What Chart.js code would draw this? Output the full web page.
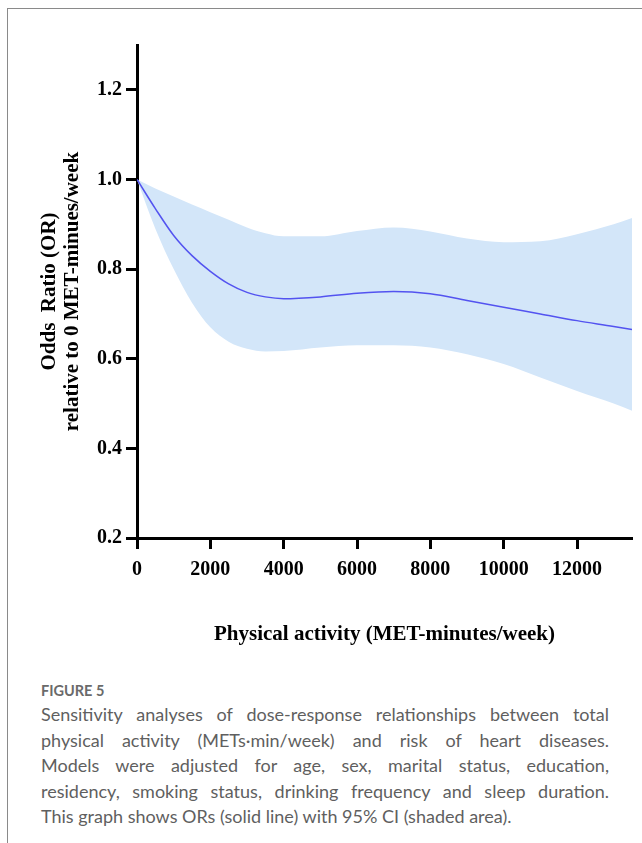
<!DOCTYPE html>
<html>
<head>
<meta charset="utf-8">
<script src="https://cdn.jsdelivr.net/npm/chart.js@4"></script>
<style>
  body { margin: 0; background: #fff; width: 642px; height: 843px; overflow: hidden; position: relative; }
  #frame { position: absolute; left: 7px; top: 8px; width: 640px; height: 840px; border-top: 1px solid #8a8a8a; border-left: 1px solid #8a8a8a; }
  #wrap { position: absolute; left: 0; top: 0; width: 642px; height: 646px; }
  #caption { position: absolute; left: 41px; top: 680px; width: 568px; font-family: Lato, "Open Sans", sans-serif; color: #5f5f5f; }
  #caption .fig { font-size: 14.5px; font-weight: 700; color: #6a6a6a; line-height: 22px; }
  #caption .ln { font-size: 18px; line-height: 25.5px; white-space: nowrap; text-align: justify; text-align-last: justify; }
  #caption .ln.last { text-align-last: left; }
</style>
</head>
<body>
<div id="frame"></div>
<div id="wrap"><canvas id="doseChart"></canvas></div>
<div id="caption">
  <div class="fig">FIGURE 5</div>
  <div class="ln">Sensitivity analyses of dose-response relationships between total</div>
  <div class="ln">physical activity (METs·min/week) and risk of heart diseases.</div>
  <div class="ln">Models were adjusted for age, sex, marital status, education,</div>
  <div class="ln">residency, smoking status, drinking frequency and sleep duration.</div>
  <div class="ln last">This graph shows ORs (solid line) with 95% CI (shaded area).</div>
</div>
<script>
// dados
const activity = [0, 500, 1000, 1500, 2000, 2500, 3000, 3500, 4000, 5000, 6000, 7000, 8000, 9000, 10000, 11000, 12000, 13000, 13500];
const oddsRatio = [1.000, 0.935, 0.875, 0.830, 0.795, 0.767, 0.748, 0.738, 0.734, 0.738, 0.746, 0.750, 0.745, 0.730, 0.715, 0.700, 0.685, 0.672, 0.665];
const ciUpper = [1.000, 0.980, 0.962, 0.944, 0.927, 0.910, 0.893, 0.880, 0.873, 0.873, 0.885, 0.893, 0.884, 0.868, 0.860, 0.862, 0.878, 0.900, 0.914];
const ciLower = [1.000, 0.890, 0.800, 0.725, 0.670, 0.638, 0.622, 0.616, 0.617, 0.625, 0.630, 0.630, 0.625, 0.610, 0.588, 0.558, 0.528, 0.500, 0.484];
const xTicks = [0, 2000, 4000, 6000, 8000, 10000, 12000];
const yTicks = [0.2, 0.4, 0.6, 0.8, 1.0, 1.2];

const toPoints = (ys) => activity.map((x, i) => ({ x: x, y: ys[i] }));

const axisFont = { family: "'Liberation Serif', 'Times New Roman', serif", weight: "bold", size: 20 };

document.addEventListener("DOMContentLoaded", () => {
  const ctx = document.getElementById("doseChart");

  const data = {
    datasets: [
      {
        label: "OR",
        data: toPoints(oddsRatio),
        borderColor: "#5353f0",
        borderWidth: 1.5,
        pointRadius: 0,
        fill: false,
        cubicInterpolationMode: "monotone",
      },
      {
        label: "95% CI upper",
        data: toPoints(ciUpper),
        borderWidth: 0,
        borderColor: "rgba(0,0,0,0)",
        backgroundColor: "#d3e6f9",
        pointRadius: 0,
        fill: "+1",
        cubicInterpolationMode: "monotone",
      },
      {
        label: "95% CI lower",
        data: toPoints(ciLower),
        borderWidth: 0,
        borderColor: "rgba(0,0,0,0)",
        pointRadius: 0,
        fill: false,
        cubicInterpolationMode: "monotone",
      },
    ],
  };

  const config = {
    type: "line",
    data: data,
    options: {
      responsive: true,
      maintainAspectRatio: false,
      animation: false,
      layout: { padding: { top: 45, right: 10, left: 0, bottom: 0 } },
      plugins: {
        legend: { display: false },
        tooltip: { enabled: false },
      },
      scales: {
        x: {
          type: "linear",
          min: 0,
          max: 13500,
          afterBuildTicks: (scale) => { scale.ticks = xTicks.map((v) => ({ value: v })); },
          afterFit: (scale) => { scale.height = 108; },
          border: { display: true, color: "#000", width: 3 },
          grid: { drawOnChartArea: false, drawTicks: true, tickLength: 11, tickWidth: 3, tickColor: "#000" },
          ticks: { color: "#000", font: axisFont, padding: 9, maxRotation: 0, callback: (v) => String(v) },
          title: {
            display: true,
            text: "Physical activity (MET-minutes/week)",
            color: "#000",
            font: { ...axisFont, size: 21, lineHeight: 1.1 },
            padding: { top: 0, bottom: 0 },
          },
        },
        y: {
          type: "linear",
          min: 0.2,
          max: 1.3,
          afterBuildTicks: (scale) => { scale.ticks = yTicks.map((v) => ({ value: v })); },
          afterFit: (scale) => { scale.width = 137; },
          border: { display: true, color: "#000", width: 3 },
          grid: { drawOnChartArea: false, drawTicks: true, tickLength: 11, tickWidth: 3, tickColor: "#000" },
          ticks: { color: "#000", font: axisFont, padding: 4, callback: (v) => v.toFixed(1) },
          title: {
            display: true,
            text: ["Odds  Ratio (OR)", "relative to 0 MET-minues/week"],
            color: "#000",
            font: { ...axisFont, size: 21, lineHeight: 1.1 },
            padding: { top: 38, bottom: 0 },
          },
        },
      },
    },
  };

  // Renderizar o gráfico
  const doseChart = new Chart(ctx, config);
});
</script>
</body>
</html>
